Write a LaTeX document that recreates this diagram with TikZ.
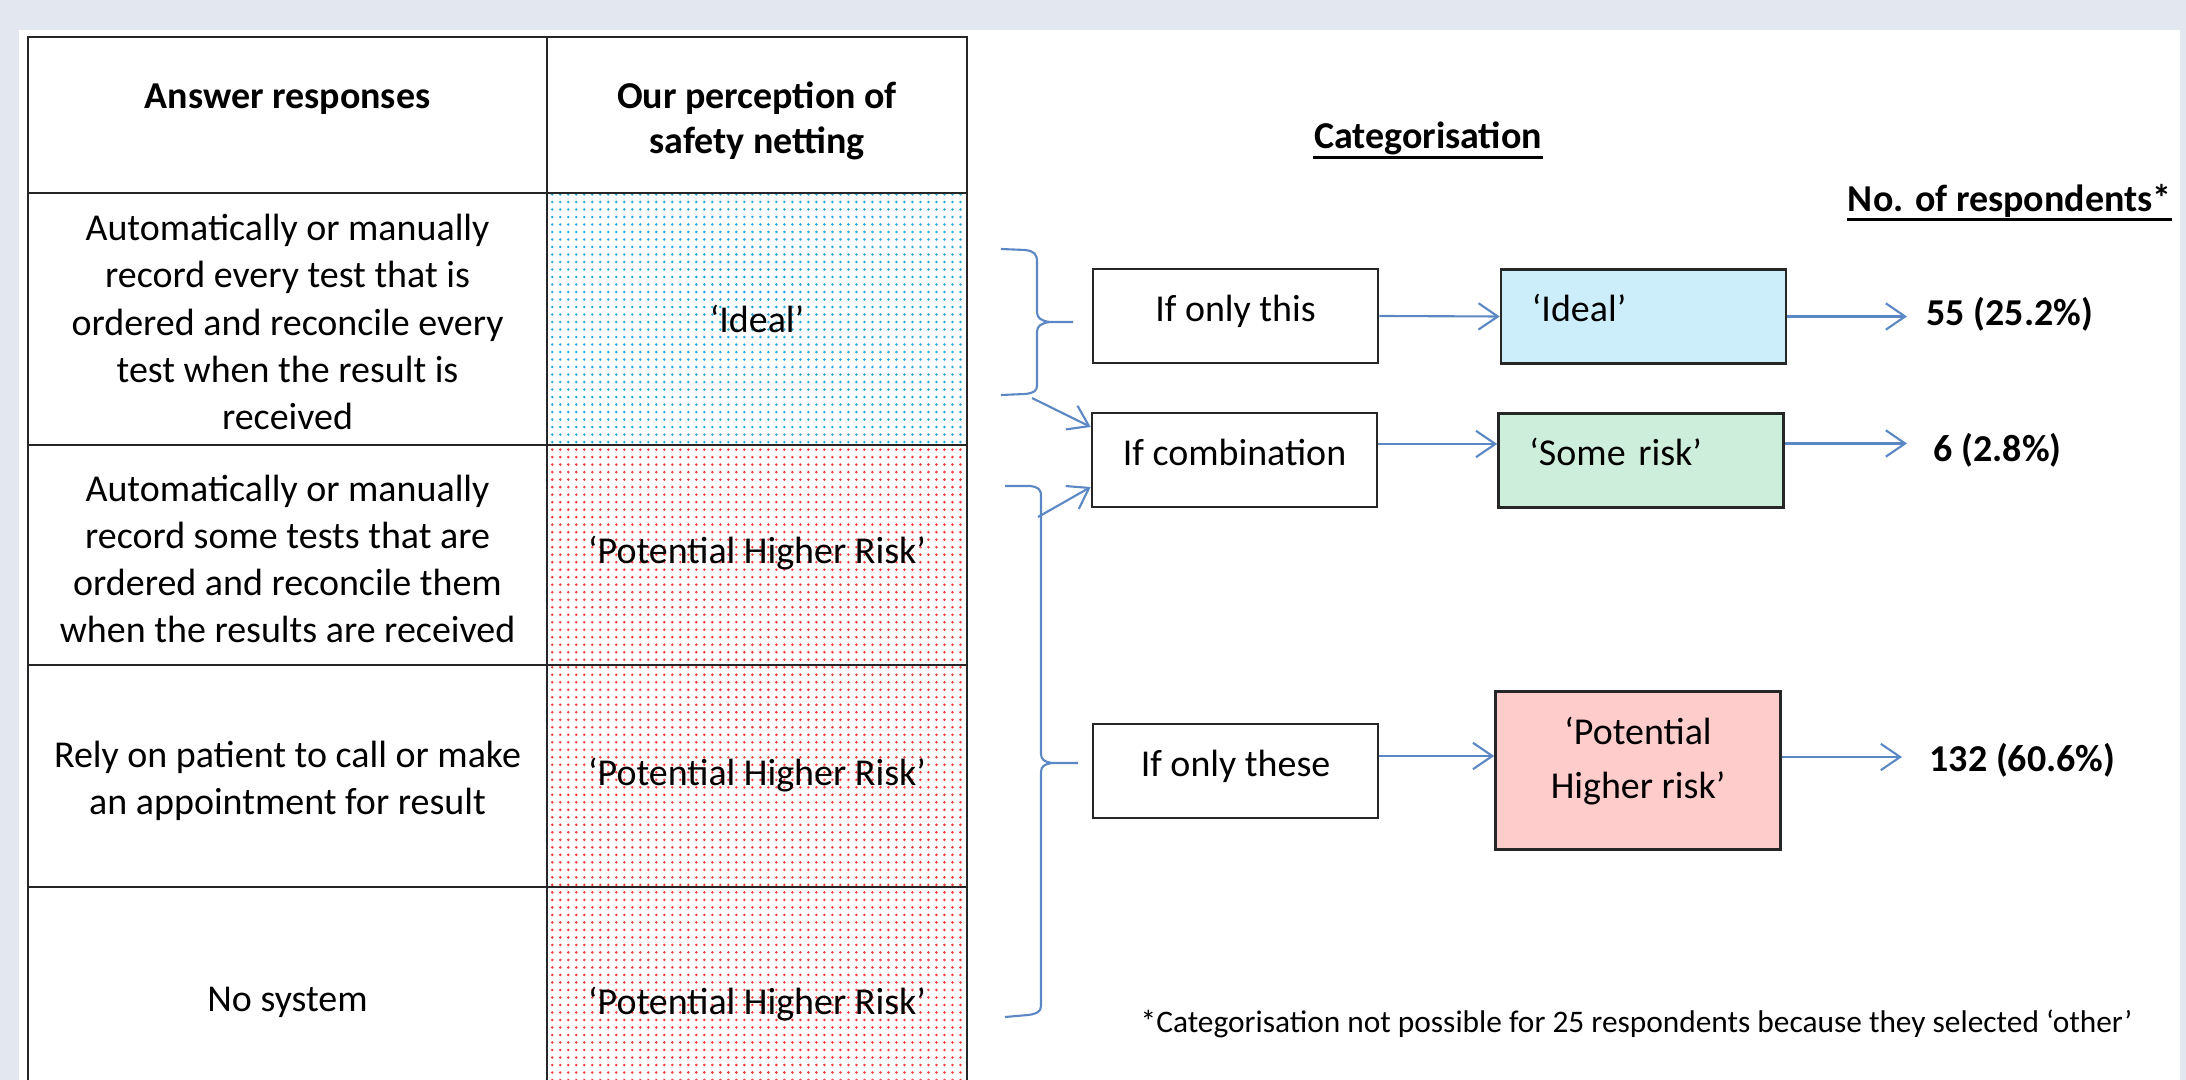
\documentclass[tikz,border=0pt]{standalone}
\usepackage{fontspec}
\setmainfont{Carlito}
\usetikzlibrary{arrows.meta,patterns,calc}
\pgfdeclarepatternformonly{smalldots}{\pgfqpoint{-0.5pt}{-0.5pt}}{\pgfqpoint{0.5pt}{0.5pt}}{\pgfqpoint{2.276pt}{2.134pt}}{\pgfpathcircle{\pgfqpoint{0pt}{0pt}}{0.4pt}\pgfusepath{fill}}
\definecolor{bgc}{HTML}{E3E7EF}
\definecolor{dotblue}{HTML}{2AA8E0}
\definecolor{dotred}{HTML}{F23A3A}
\definecolor{lineblue}{HTML}{5B88C4}
\definecolor{idealfill}{HTML}{CCEEFA}
\definecolor{somefill}{HTML}{CDEEDB}
\definecolor{highfill}{HTML}{FFCCCC}
\begin{document}
\begin{tikzpicture}[x=0.01cm,y=-0.01cm,
  cell/.style={font=\fontsize{10.8}{13.4}\selectfont, align=center, inner sep=0pt},
  hcell/.style={cell, font=\fontsize{10.8}{12.6}\selectfont\bfseries},
  grid/.style={draw=black!85, line width=0.7pt},
  box/.style={draw=black!85, line width=0.7pt, minimum width=2.85cm, minimum height=0.94cm,
    font=\fontsize{10.8}{13.4}\selectfont, text height=7.5pt, text depth=4.5pt, inner sep=0pt},
  lbox/.style={box, text width=2.23cm, align=left, inner xsep=0.31cm},
  num/.style={font=\fontsize{10.8}{13.4}\selectfont\bfseries, inner sep=0pt, anchor=west},
  arr/.style={draw=lineblue, line width=0.6pt, -{Straight Barb[length=5.5pt,width=7.5pt]}},
  brace/.style={draw=lineblue, line width=0.6pt}
]
\useasboundingbox (0,0) rectangle (2186,1080);
\fill[bgc] (0,0) rectangle (2186,1080);
\fill[white] (19,30) rectangle (2180,1080);

% table fills
\fill[pattern=smalldots, pattern color=dotblue] (547,193) rectangle (967,445);
\fill[pattern=smalldots, pattern color=dotred] (547,445) rectangle (967,1080);
% table grid
\draw[grid] (28,1080) -- (28,37) -- (967,37) -- (967,1080);
\draw[grid] (547,37) -- (547,1080);
\foreach \yy in {193,445,665,887} \draw[grid] (28,\yy) -- (967,\yy);

% table text
\node[hcell] (h1) at (287.5,99) {Answer responses};
\node[hcell] (h2) at (757,121) {Our perception of\\safety netting};
\node[cell] (r1) at (287.5,322) {Automatically or manually\\record every test that is\\ordered and reconcile every\\test when the result is\\received};
\node[cell] (r2) at (287.5,559) {Automatically or manually\\record some tests that are\\ordered and reconcile them\\when the results are received};
\node[cell] (r3) at (287.5,781) {Rely on patient to call or make\\an appointment for result};
\node[cell] (r4) at (287.5,1002) {No system};
\node[cell] (p1) at (757,319) {‘Ideal’};
\node[cell] (p2) at (757,553) {‘Potential Higher Risk’};
\node[cell] (p3) at (757,775) {‘Potential Higher Risk’};
\node[cell] (p4) at (757,1004) {‘Potential Higher Risk’};

% headings
\node[hcell, anchor=base] (cat) at (1428,149) {Categorisation};
\draw[line width=1pt] ([yshift=-2.4pt]cat.base west) -- ([yshift=-2.4pt]cat.base east);
\node[hcell, anchor=base east] (resp) at (2172,212) {No. of respondents*};
\draw[line width=1pt] ([yshift=-2.2pt]resp.base west) -- ([yshift=-2.2pt]resp.base east);

% boxes
\node[box] (ifthis) at (1235.5,316) {If only this};
\node[box] (ifcomb) at (1234.5,460) {If combination};
\node[box] (ifthese) at (1235.5,771) {If only these};
\node[lbox, fill=idealfill] (ideal) at (1643.5,316.5) {‘Ideal’};
\node[lbox, fill=somefill] (somerisk) at (1641,460.5) {‘Some risk’};
\node[box, fill=highfill, minimum height=1.58cm, align=center, text height=19.2pt, text depth=3pt,
  font=\fontsize{10.8}{15.6}\selectfont] (high) at (1638,770.5) {‘Potential\\Higher risk’};

% numbers
\node[num] (n1) at (1926,314) {55 (25.2\%)};
\node[num] (n2) at (1933,450) {6 (2.8\%)};
\node[num] (n3) at (1929,760) {132 (60.6\%)};

% box arrows
\draw[arr] (ifthis.east) -- (ideal.west);
\draw[arr] ([yshift=0.16cm]ifcomb.east) -- ([yshift=0.16cm]ifcomb.east -| somerisk.west);
\draw[arr] ([yshift=0.15cm]ifthese.east) -- ([yshift=0.15cm]ifthese.east -| high.west);
\draw[arr, shorten >=0.19cm] (ideal.east) -- (ideal.east -| n1.west);
\draw[arr, shorten >=0.26cm] ([yshift=0.17cm]somerisk.east) -- ([yshift=0.17cm]somerisk.east -| n2.west);
\draw[arr, shorten >=0.27cm] ([yshift=0.135cm]high.east) -- ([yshift=0.135cm]high.east -| n3.west);

% braces
\draw[brace] (1001,249) -- (1025,250) .. controls (1034,251) and (1037,254) .. (1037,262) -- (1037,312)
  .. controls (1037,318) and (1041,321) .. (1050,322) -- (1073,322)
  (1050,322) .. controls (1041,323) and (1037,326) .. (1037,332) -- (1037,385)
  .. controls (1037,391) and (1034,393) .. (1025,394) -- (1001,395);
\draw[brace] (1005,486) -- (1030,486) .. controls (1038,487) and (1041,489) .. (1041,496) -- (1041,754)
  .. controls (1041,760) and (1045,762) .. (1052,763) -- (1078,763)
  (1052,763) .. controls (1045,764) and (1041,766) .. (1041,772) -- (1041,1006)
  .. controls (1041,1012) and (1036,1014) .. (1028,1015) -- (1005,1017);
\coordinate (b1foot) at (1032,398);
\coordinate (b2arm) at (1038,517);
\draw[arr] (b1foot) -- ([yshift=0.33cm]ifcomb.west);
\draw[arr] (b2arm) -- ([yshift=-0.27cm]ifcomb.west);

% footnote
\node[cell, anchor=west, font=\fontsize{8.92}{10.8}\selectfont] (note) at (1140,1024) {*Categorisation not possible for 25 respondents because they selected ‘other’};
\end{tikzpicture}
\end{document}
